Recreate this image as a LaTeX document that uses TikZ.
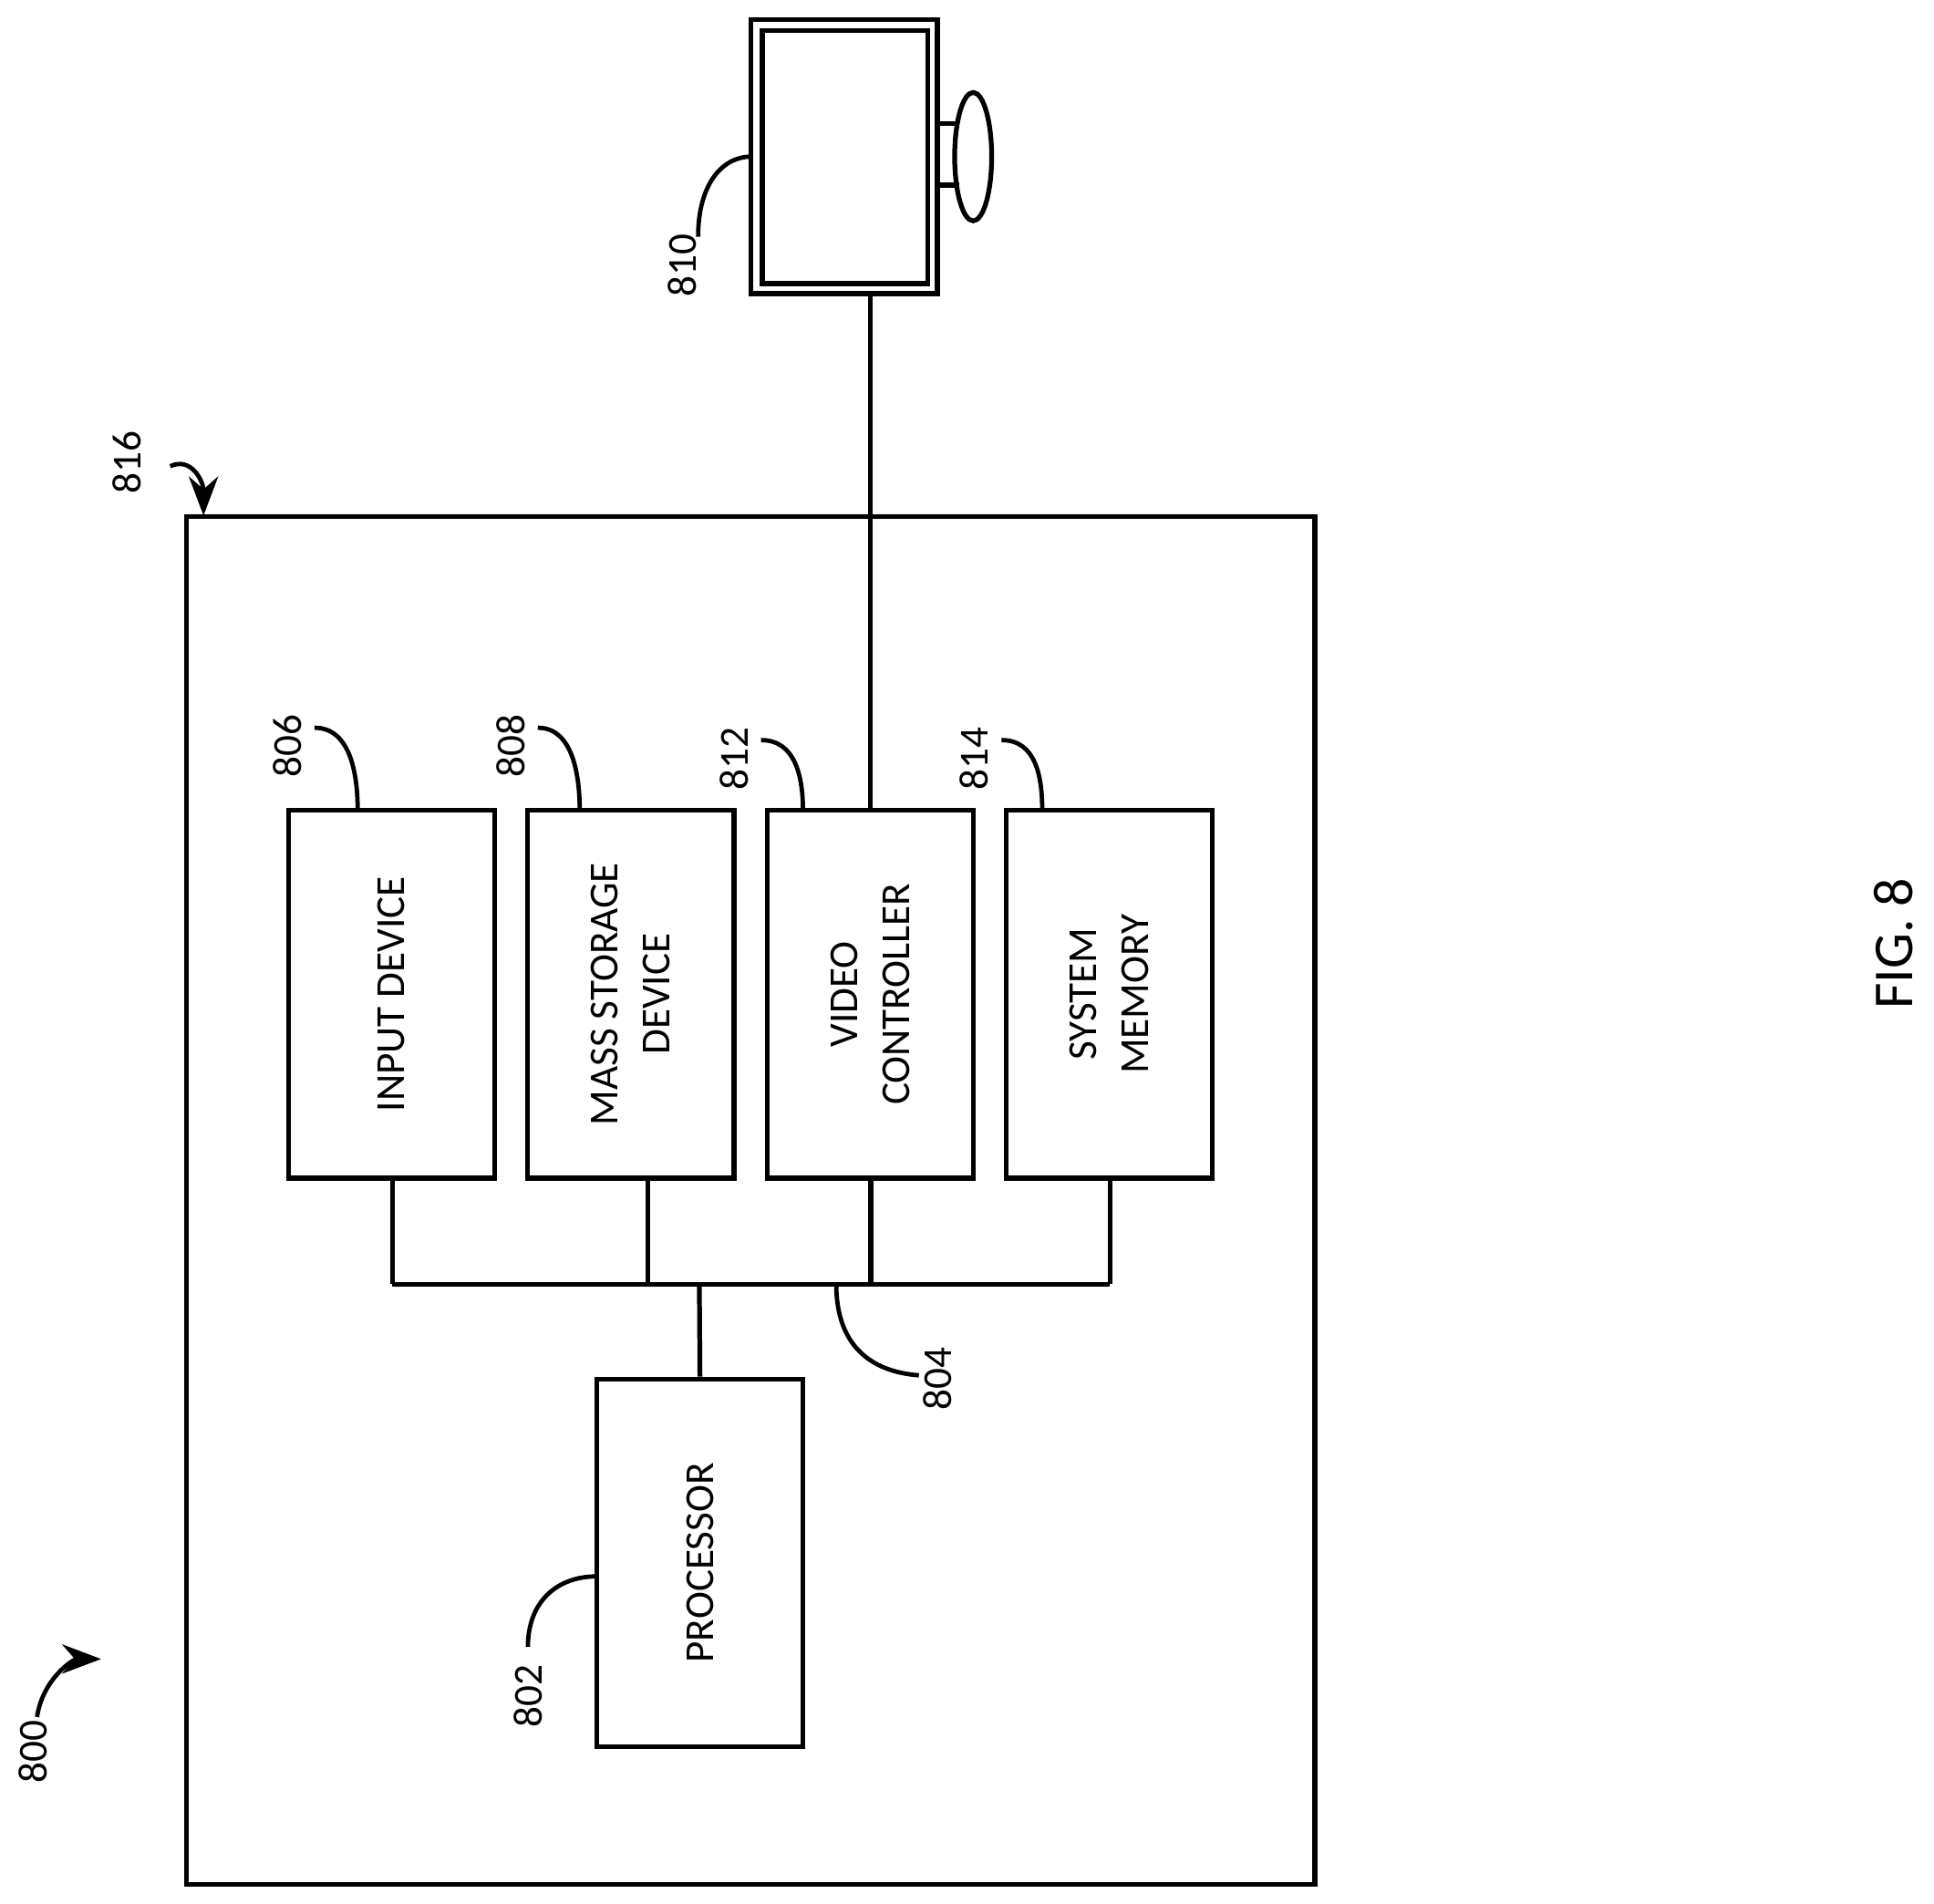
\documentclass[tikz,border=0pt]{standalone}
\usepackage{fontspec}
\setmainfont{Carlito}
\usetikzlibrary{arrows.meta,shapes.geometric}
\begin{document}
\begin{tikzpicture}[x=0.01cm,y=-0.01cm,line width=1.1pt]
\tikzset{block/.style = {draw, minimum width=1.67cm, minimum height=2.98cm, inner sep=0pt}}
\tikzset{lbl/.style = {rotate=90, font=\fontsize{9.5}{12}\selectfont, align=center}}
\tikzset{ref/.style = {rotate=90, font=\fontsize{9.5}{12}\selectfont}}
\tikzset{lead/.style = {line width=1pt}}
\useasboundingbox (0,0) rectangle (1568,1543);
% monitor
\node[draw, minimum width=1.51cm, minimum height=2.22cm, inner sep=0pt] (mon) at (684.5,127) {};
\draw (618,25) rectangle (752,230);
\draw (760,100) -- (778,100) (760,150) -- (778,150);
\node[draw, ellipse, minimum width=0.3cm, minimum height=1.04cm, inner sep=0pt] (foot) at (789,127) {};
\node[ref] (l810) at (553,215) {810};
\draw[lead] (566,192) .. controls (566,150) and (585,127) .. (609,127);
% computer box
\draw (151,419) rectangle (1066,1528);
\node[ref] (l816) at (103,375) {816};
\coordinate (a816) at (165,418);
\draw[lead,-{Stealth[length=9pt]}] (138,378) .. controls (155,370) and (165,390) .. (a816);
% blocks
\node[block] (inp) at (317.5,806) {};
\node[lbl] at (inp) {INPUT DEVICE};
\node[block] (mass) at (511.5,806) {};
\node[lbl] at (mass) {MASS STORAGE\\DEVICE};
\node[block] (vid) at (705.5,806) {};
\node[lbl] at (vid) {VIDEO\\CONTROLLER};
\node[block] (mem) at (899.5,806) {};
\node[lbl] at (mem) {SYSTEM\\MEMORY};
\node[block] (proc) at (567.5,1267) {};
\node[lbl] at (proc) {PROCESSOR};
% bus
\coordinate (bl) at (318,1041);
\coordinate (br) at (900,1041);
\draw (bl) -- (br);
\draw (318,955) -- (bl);
\draw (525,955) -- (525,1041);
\draw (706,955) -- (706,1041);
\draw (900,955) -- (br);
\draw (proc.north) -- (567,1041);
\draw (vid.north) -- (vid.north |- mon.south);
% reference labels
\node[ref] (l806) at (233,605) {806};
\draw[lead] (255,590) .. controls (285,590) and (290,630) .. (290,657);
\node[ref] (l808) at (414,605) {808};
\draw[lead] (436,590) .. controls (465,590) and (470,630) .. (470,657);
\node[ref] (l812) at (595,615) {812};
\draw[lead] (617,600) .. controls (645,600) and (651,630) .. (651,657);
\node[ref] (l814) at (790,615) {814};
\draw[lead] (812,600) .. controls (840,600) and (845,630) .. (845,657);
\node[ref] (l804) at (760,1118) {804};
\draw[lead] (678,1041) .. controls (678,1090) and (705,1112) .. (745,1115);
\node[ref] (l802) at (428,1375) {802};
\draw[lead] (428,1335) .. controls (428,1300) and (450,1278) .. (484,1278);
\node[ref] (l800) at (27,1420) {800};
\draw[lead,-{Stealth[length=9pt]}] (30,1392) .. controls (35,1360) and (60,1345) .. (82,1345);
\node[rotate=90, font=\fontsize{13}{15}\selectfont] (fig) at (1535,765) {FIG. 8};
\end{tikzpicture}
\end{document}
